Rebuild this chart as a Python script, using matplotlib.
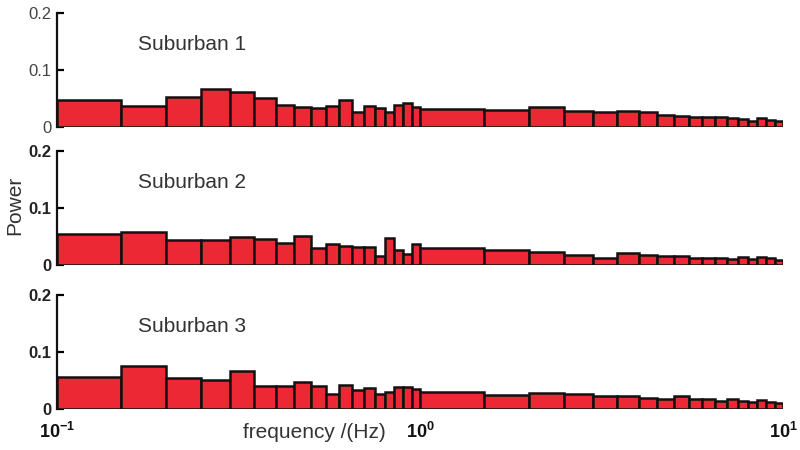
import matplotlib
matplotlib.use("Agg")
import matplotlib.pyplot as plt

plt.rcParams['font.family'] = ['Liberation Sans', 'DejaVu Sans']
plt.rcParams['mathtext.fontset'] = 'custom'
plt.rcParams['mathtext.rm'] = 'Liberation Sans'
plt.rcParams['mathtext.bf'] = 'Liberation Sans:bold'

# Frequency bin edges (Hz)
bin_edges = [0.10, 0.15, 0.20, 0.25, 0.30, 0.35, 0.40, 0.45, 0.50, 0.55,
             0.60, 0.65, 0.70, 0.75, 0.80, 0.85, 0.90, 0.95, 1.0,
             1.5, 2.0, 2.5, 3.0, 3.5, 4.0, 4.5, 5.0, 5.5,
             6.0, 6.5, 7.0, 7.5, 8.0, 8.5, 9.0, 9.5, 10.0]

panel_names = ["Suburban 1", "Suburban 2", "Suburban 3"]

power_1 = [0.048, 0.037, 0.053, 0.067, 0.061, 0.052, 0.039, 0.035, 0.033,
           0.037, 0.047, 0.026, 0.037, 0.034, 0.027, 0.039, 0.042, 0.035,
           0.032, 0.030, 0.036, 0.029, 0.027, 0.029, 0.026, 0.022, 0.019,
           0.018, 0.018, 0.018, 0.016, 0.015, 0.011, 0.016, 0.012, 0.011]
power_2 = [0.054, 0.058, 0.043, 0.043, 0.049, 0.046, 0.039, 0.050, 0.029,
           0.037, 0.034, 0.032, 0.031, 0.015, 0.048, 0.026, 0.019, 0.037,
           0.029, 0.026, 0.023, 0.018, 0.013, 0.021, 0.017, 0.016, 0.016,
           0.012, 0.013, 0.013, 0.010, 0.014, 0.011, 0.014, 0.013, 0.009]
power_3 = [0.056, 0.076, 0.055, 0.051, 0.067, 0.041, 0.041, 0.047, 0.040,
           0.026, 0.042, 0.033, 0.036, 0.027, 0.029, 0.038, 0.038, 0.035,
           0.029, 0.024, 0.028, 0.026, 0.022, 0.022, 0.020, 0.018, 0.022,
           0.018, 0.017, 0.014, 0.017, 0.014, 0.013, 0.016, 0.012, 0.011]

y_ticks = [0, 0.1, 0.2]
y_tick_labels = ["0", "0.1", "0.2"]
x_ticks = [0.1, 1, 10]
x_tick_labels = [r"$\mathbf{10^{-1}}$", r"$\mathbf{10^{0}}$", r"$\mathbf{10^{1}}$"]

series = [power_1, power_2, power_3]
bold_ylabels = [False, True, True]

fig = plt.figure(figsize=(8, 4.5), dpi=100)
bottoms = [0.7171, 0.4111, 0.0911]
left, width, height = 0.07125, 0.9075, 0.254

lefts = bin_edges[:-1]
widths = [b - a for a, b in zip(bin_edges[:-1], bin_edges[1:])]

axes = []
for i, (vals, name, bot) in enumerate(zip(series, panel_names, bottoms)):
    ax = fig.add_axes([left, bot, width, height])
    ax.bar(lefts, vals, width=widths, align='edge', color='#ec2834',
           edgecolor='#111111', linewidth=1.8, zorder=3)
    ax.set_xscale('log')
    ax.set_xlim(0.1, 10)
    ax.set_ylim(0, 0.2)
    for s in ['top', 'right', 'bottom']:
        ax.spines[s].set_visible(False)
    ax.spines['left'].set_linewidth(1.6)
    ax.spines['left'].set_color('#111111')
    ax.set_yticks(y_ticks)
    ax.set_yticklabels(y_tick_labels,
                       fontweight='bold' if bold_ylabels[i] else 'normal',
                       color='#222222' if bold_ylabels[i] else '#444444')
    ax.tick_params(axis='y', direction='in', length=5, width=1.6,
                   labelsize=12, pad=4)
    ax.tick_params(axis='x', which='both', length=0)
    ax.text(0.112, 0.725, name, transform=ax.transAxes, fontsize=15,
            color='#333333', va='center', ha='left')
    if i < 2:
        ax.set_xticks([])
        ax.set_xticks([], minor=True)
    else:
        ax.set_xticks(x_ticks)
        ax.set_xticks([], minor=True)
        ax.set_xticklabels(x_tick_labels, fontsize=13, color='#111111')
        ax.tick_params(axis='x', pad=9)
    axes.append(ax)

fig.text(314 / 800, 1 - 433 / 450, "frequency /(Hz)", fontsize=15,
         color='#333333', ha='center', va='center')
fig.text(15 / 800, 1 - 205 / 450, "Power", fontsize=15, color='#333333',
         rotation=90, ha='center', va='center')

fig.savefig("out.png", dpi=100)
